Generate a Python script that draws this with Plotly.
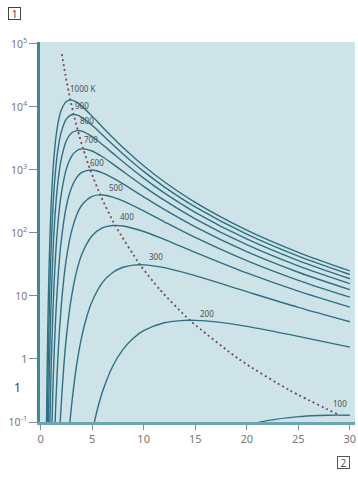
import math
import plotly.graph_objects as go

# ---- data (wavelength in µm, spectral exitance) ----
temps = [1000, 900, 800, 700, 600, 500, 400, 300, 200, 100]

wl_1000 = [0.55, 0.6, 0.7, 0.8, 0.9, 1.0, 1.1, 1.25, 1.5, 1.75, 2, 2.5, 3, 3.5, 4, 5, 6, 7, 8, 10, 12, 15, 20, 25, 30]
m_1000 = [0.032, 0.185, 2.64, 17.7, 72.2, 211, 485, 1230, 3364, 6131, 8789, 12170, 12830, 11870, 10300, 7140, 4812, 3269, 2266, 1164, 649, 306, 111, 49.3, 25.0]

wl_900 = [0.6, 0.65, 0.7, 0.8, 0.9, 1.0, 1.25, 1.5, 1.75, 2, 2.5, 3, 3.5, 4, 5, 6, 7, 8, 10, 12, 15, 20, 25, 30]
m_900 = [0.0129, 0.0671, 0.268, 2.39, 12.2, 42.7, 342, 1158, 2458, 3948, 6410, 7505, 7475, 6840, 5102, 3602, 2525, 1791, 948, 539, 259, 95.5, 42.8, 21.9]

wl_800 = [0.7, 0.75, 0.8, 0.9, 1.0, 1.25, 1.5, 1.75, 2, 2.5, 3, 3.5, 4, 5, 6, 7, 8, 10, 12, 15, 20, 25, 30]
m_800 = [0.0155, 0.0607, 0.197, 1.33, 5.79, 69.2, 306, 785, 1454, 2881, 3846, 4204, 4121, 3374, 2528, 1846, 1348, 742.5, 432.6, 212.7, 80.2, 36.4, 18.75]

wl_700 = [0.8, 0.85, 0.9, 1.0, 1.1, 1.25, 1.5, 1.75, 2, 2.5, 3, 3.5, 4, 5, 6, 7, 8, 10, 12, 15, 20, 25, 30]
m_700 = [0.0079, 0.0266, 0.0764, 0.443, 1.78, 8.86, 55.1, 180.8, 402.3, 1030, 1631, 2012, 2156, 1995, 1618, 1247, 947, 549.5, 330.9, 167.8, 65.1, 30.0, 15.65]

wl_600 = [1.0, 1.1, 1.2, 1.25, 1.35, 1.5, 1.75, 2, 2.5, 3, 3.5, 4, 5, 6, 7, 8, 10, 12, 15, 20, 25, 30]
m_600 = [0.0144, 0.0791, 0.315, 0.571, 1.611, 5.62, 25.5, 72.5, 261.6, 520.3, 754.7, 912.6, 997.6, 900.8, 748.5, 599.9, 374.2, 235.9, 124.9, 50.45, 23.8, 12.58]

wl_500 = [1.2, 1.3, 1.4, 1.5, 1.75, 2, 2.25, 2.5, 3, 3.5, 4, 5, 6, 7, 8, 10, 12, 15, 20, 25, 30]
m_500 = [0.0058, 0.0246, 0.0824, 0.2296, 1.648, 6.597, 18.11, 38.4, 105.1, 191.6, 274.7, 380.4, 400.9, 370.9, 321.8, 223.1, 150.4, 84.8, 36.35, 17.73, 9.57]

wl_400 = [1.75, 1.9, 2, 2.25, 2.5, 2.75, 3, 3.5, 4, 5, 6, 7, 8, 10, 12, 15, 20, 25, 30]
m_400 = [0.027, 0.0906, 0.1807, 0.740, 2.163, 4.964, 9.557, 24.52, 45.44, 90.03, 120.2, 131.3, 128.8, 105.4, 79.0, 49.28, 23.19, 11.92, 6.65]

wl_300 = [2.5, 2.75, 3, 3.5, 4, 4.5, 5, 6, 7, 8, 9, 10, 12, 15, 20, 25, 30]
m_300 = [0.0179, 0.0634, 0.1756, 0.797, 2.268, 4.768, 8.176, 16.26, 23.58, 28.52, 30.88, 31.18, 28.15, 21.0, 11.69, 6.596, 3.903]

wl_200 = [5, 5.5, 6, 7, 8, 9, 10, 12, 14, 15, 17, 20, 25, 30]
m_200 = [0.0676, 0.1551, 0.2986, 0.766, 1.42, 2.141, 2.814, 3.756, 4.104, 4.106, 3.884, 3.294, 2.285, 1.54]

wl_100 = [18, 20, 22, 25, 27, 28, 30]
m_100 = [0.0669, 0.0879, 0.105, 0.1217, 0.1271, 0.1283, 0.1283]

# locus of maxima (dotted line)
wl_peak = [2.07, 2.415, 2.898, 3.22, 3.622, 4.14, 4.83, 5.796, 7.245, 9.659, 11.59, 14.489, 19.319, 24.148, 28.978]
m_peak = [69020, 31930, 12834, 7578, 4205, 2157, 998, 401.1, 131.4, 31.19, 12.53, 4.107, 0.9746, 0.3193, 0.1283]

curve_labels = ["1000 K", "900", "800", "700", "600", "500", "400", "300", "200", "100"]

y_tickvals = [0.1, 1, 10, 100, 1000, 10000, 100000]
y_ticktext = ["10<sup>-1</sup>", "1", "10", "10<sup>2</sup>", "10<sup>3</sup>", "10<sup>4</sup>", "10<sup>5</sup>"]
x_tickvals = [0, 5, 10, 15, 20, 25, 30]

# ---- label anchor positions (layout) ----
label_x = [2.66, 3.15, 3.63, 4.02, 4.6, 6.44, 7.5, 10.31, 15.25, 28.2]
label_y = [19300, 10400, 6000, 2990, 1290, 518, 180, 41.6, 5.18, 0.2]

series = [(wl_1000, m_1000), (wl_900, m_900), (wl_800, m_800), (wl_700, m_700),
          (wl_600, m_600), (wl_500, m_500), (wl_400, m_400), (wl_300, m_300),
          (wl_200, m_200), (wl_100, m_100)]

CURVE = "#2f6f81"
fig = go.Figure()
for T, (wl, m) in zip(temps, series):
    fig.add_trace(go.Scatter(x=wl, y=m, mode="lines", name=f"{T} K",
                             line=dict(color=CURVE, width=1.4, shape="spline", smoothing=0.8),
                             hoverinfo="skip", showlegend=False))

fig.add_trace(go.Scatter(x=wl_peak, y=m_peak, mode="lines",
                         line=dict(color="#74495a", width=1.8, dash="2px,3px", shape="spline", smoothing=0.6),
                         hoverinfo="skip", showlegend=False))

for lx, ly, txt in zip(label_x, label_y, curve_labels):
    fig.add_annotation(x=lx, y=math.log10(ly), yref="y", xref="x", text=txt, showarrow=False,
                       xanchor="left", yanchor="middle",
                       font=dict(size=8, color="#505050", family="Noto Sans"))

# boxed markers and stray label
fig.add_annotation(xref="paper", yref="paper", x=-0.081, y=1.0737, text="1", showarrow=False,
                   font=dict(size=10, color="#444", family="Noto Sans"),
                   bordercolor="#444", borderwidth=1, borderpad=0, width=11, height=11,
                   xanchor="center", yanchor="middle")
fig.add_annotation(xref="paper", yref="paper", x=0.965, y=-0.1066, text="2", showarrow=False,
                   font=dict(size=10, color="#555", family="Noto Sans"),
                   bordercolor="#555", borderwidth=1, borderpad=0, width=11, height=11,
                   xanchor="center", yanchor="middle")
fig.add_annotation(xref="paper", yref="paper", x=-0.073, y=0.0895, text="1", showarrow=False,
                   font=dict(size=12, color="#444", family="Noto Sans"),
                   xanchor="center", yanchor="middle")

fig.update_xaxes(range=[-0.05, 30.5], tickvals=x_tickvals, ticks="outside", ticklen=5,
                 tickcolor="#8a8a8a", tickwidth=1,
                 tickfont=dict(size=11, color="#777", family="Noto Sans"),
                 showline=True, linecolor="#6ea5b2", linewidth=3,
                 showgrid=False, zeroline=False, fixedrange=True)
fig.update_yaxes(type="log", range=[-1.0, 5.03], tickvals=y_tickvals, ticktext=y_ticktext,
                 ticks="outside", ticklen=8, tickcolor="#8a8a8a", tickwidth=1,
                 tickfont=dict(size=10.5, color="#777", family="Noto Sans"),
                 showline=True, linecolor="#3f8797", linewidth=2.5,
                 showgrid=False, zeroline=False, fixedrange=True)

fig.update_layout(width=358, height=477,
                  margin=dict(l=40, r=3, t=42, b=55),
                  paper_bgcolor="white", plot_bgcolor="#cde3e8",
                  showlegend=False)

fig.write_html("out.html", config={"displayModeBar": False},
               post_script="document.body.style.margin='0';document.body.style.overflow='hidden';")
